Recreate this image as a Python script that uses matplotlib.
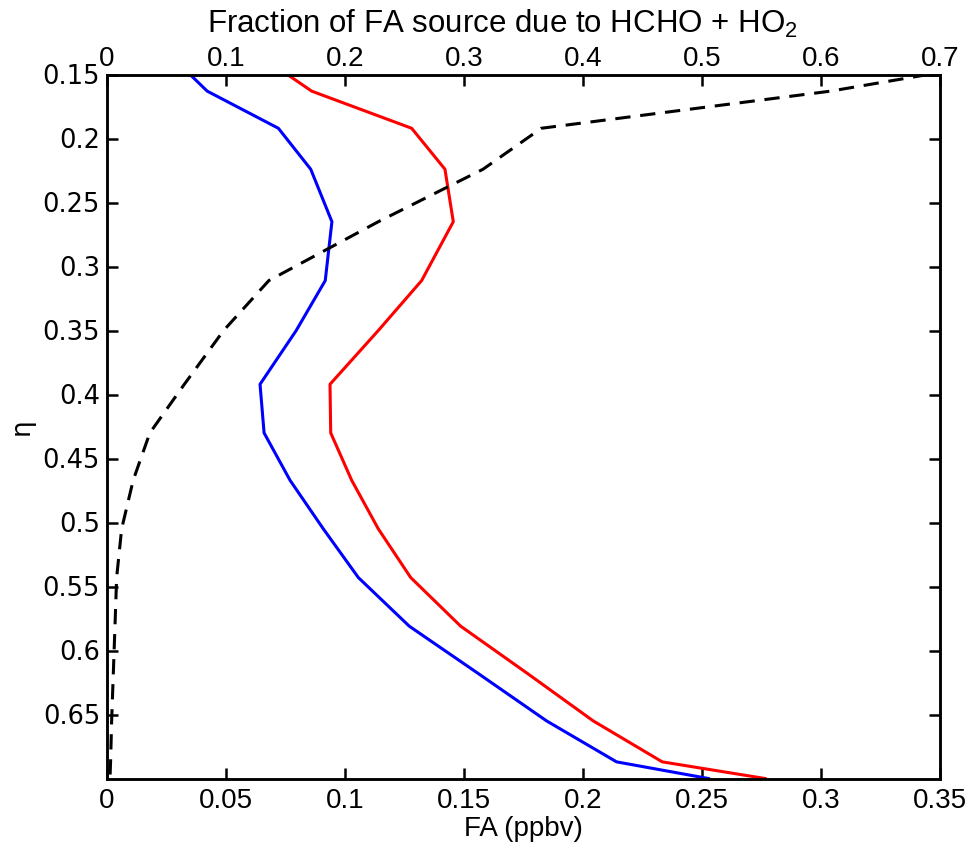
import matplotlib
matplotlib.use("Agg")
import matplotlib.pyplot as plt

# ---- data ----
eta = [0.15, 0.163, 0.192, 0.224, 0.265, 0.311, 0.35, 0.392, 0.430, 0.467,
       0.505, 0.543, 0.581, 0.618, 0.655, 0.687, 0.70]
fa_blue = [0.0349, 0.0421, 0.0720, 0.0856, 0.0945, 0.0917, 0.0795, 0.0643, 0.0660,
           0.0769, 0.0909, 0.1056, 0.1270, 0.1560, 0.1847, 0.2141, 0.2527]
fa_red = [0.0758, 0.0860, 0.1280, 0.1420, 0.1455, 0.1322, 0.1140, 0.0937, 0.0940,
          0.1028, 0.1140, 0.1276, 0.1486, 0.1767, 0.2043, 0.2333, 0.2765]
frac_hcho = [0.69, 0.608, 0.365, 0.316, 0.228, 0.136, 0.098, 0.065, 0.036, 0.022,
             0.0123, 0.0081, 0.0067, 0.0053, 0.0039, 0.0030, 0.0025]

fa_ticks = [0, 0.05, 0.1, 0.15, 0.2, 0.25, 0.3, 0.35]
fa_ticklabels = ["0", "0.05", "0.1", "0.15", "0.2", "0.25", "0.3", "0.35"]
frac_ticks = [0, 0.1, 0.2, 0.3, 0.4, 0.5, 0.6, 0.7]
frac_ticklabels = ["0", "0.1", "0.2", "0.3", "0.4", "0.5", "0.6", "0.7"]
eta_ticks = [0.15, 0.2, 0.25, 0.3, 0.35, 0.4, 0.45, 0.5, 0.55, 0.6, 0.65]
eta_ticklabels = ["0.15", "0.2", "0.25", "0.3", "0.35", "0.4", "0.45", "0.5",
                  "0.55", "0.6", "0.65"]

# ---- fonts ----
xfont = "Liberation Sans"
yfont = "DejaVu Sans"
plt.rcParams["font.family"] = ["Liberation Sans", "DejaVu Sans"]
plt.rcParams["mathtext.fontset"] = "custom"
plt.rcParams["mathtext.rm"] = xfont
plt.rcParams["mathtext.it"] = xfont

fig = plt.figure(figsize=(9.75, 8.48), dpi=100)
ax = fig.add_axes([107 / 975, 1 - 778.5 / 848, (940 - 107) / 975, (778.5 - 74.5) / 848])
ax2 = ax.twiny()

lw = 2.2
ax.plot(fa_blue, eta, color="#0000ff", lw=lw)
ax.plot(fa_red, eta, color="#ff0000", lw=lw)
ax2.plot(frac_hcho, eta, color="black", lw=lw, linestyle=(0, (5, 3.2)))

ax.set_xlim(0, 0.35)
ax2.set_xlim(0, 0.7)
ax.set_ylim(0.70, 0.15)

ax.set_xticks(fa_ticks)
ax.set_xticklabels(fa_ticklabels)
ax.set_yticks(eta_ticks)
ax.set_yticklabels(eta_ticklabels)
ax2.set_xticks(frac_ticks)
ax2.set_xticklabels(frac_ticklabels)

ax.tick_params(axis="x", direction="in", length=8, width=1.8, pad=7,
               top=False, bottom=True, labelsize=20)
ax.tick_params(axis="y", direction="in", length=8, width=1.8, pad=5,
               left=True, right=True, labelsize=18.5)
ax2.tick_params(axis="x", direction="in", length=8, width=1.8, pad=2,
                top=True, bottom=False, labelsize=20)

for lab in ax.get_yticklabels():
    lab.set_family(yfont)
for lab in ax.get_xticklabels() + ax2.get_xticklabels():
    lab.set_family(xfont)

ax.set_xlabel("FA (ppbv)", family=xfont, fontsize=20, labelpad=1)
ax.set_ylabel("η", family=yfont, fontsize=19, labelpad=6)
ax2.set_xlabel("Fraction of FA source due to HCHO + HO$_2$", family=xfont,
               fontsize=22.5, labelpad=9)
ax2.xaxis.label.set_x(0.475)

for a in (ax, ax2):
    for s in a.spines.values():
        s.set_linewidth(1.8)

fig.savefig("out.png", dpi=100, facecolor="white")
